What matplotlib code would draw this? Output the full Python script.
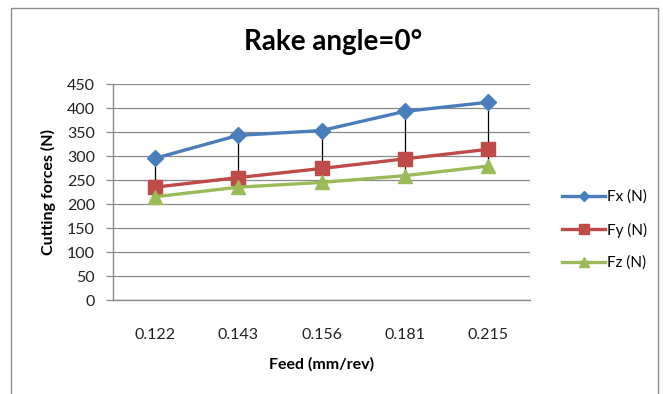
import matplotlib
matplotlib.use("Agg")
import matplotlib.pyplot as plt
from matplotlib.patches import Rectangle
import numpy as np

feeds = ["0.122", "0.143", "0.156", "0.181", "0.215"]
fx = [295, 343, 353, 393, 412]
fy = [235, 255, 274, 294, 314]
fz = [215, 235, 245, 259, 279]
y_ticks = [0, 50, 100, 150, 200, 250, 300, 350, 400, 450]

series = [
    ("Fx (N)", fx, "#4A7EBB", "D", 8),
    ("Fy (N)", fy, "#BE4B48", "s", 9.5),
    ("Fz (N)", fz, "#9BBB59", "^", 10),
]

plt.rcParams["font.family"] = ["Lato", "DejaVu Sans"]

fig = plt.figure(figsize=(6.63, 3.94), dpi=100)
fig.patches.append(Rectangle((11 / 663, -0.01), 647 / 663, 1 - 8 / 394 + 0.01,
                             transform=fig.transFigure, fill=False,
                             edgecolor="#8c8c8c", linewidth=1.0))

ax = fig.add_axes([113 / 663, 1 - 300 / 394, 417 / 663, 216 / 394])
x = np.arange(len(feeds))

# high-low lines between the largest and smallest series at each feed
hi = np.max([fx, fy, fz], axis=0)
lo = np.min([fx, fy, fz], axis=0)
ax.vlines(x, lo, hi, colors="black", linewidth=0.9, zorder=2)

for name, vals, color, marker, ms in series:
    ax.plot(x, vals, color=color, linewidth=2.4, marker=marker, markersize=ms,
            markeredgecolor=color, label=name, zorder=3)

ax.set_xlim(-0.5, len(feeds) - 0.5)
ax.set_ylim(0, 450)
ax.set_yticks(y_ticks)
ax.set_xticks(x)
ax.set_xticklabels(feeds)
ax.grid(axis="y", color="#8a8a8a", linewidth=0.9)
ax.set_axisbelow(True)
for side in ("top", "right"):
    ax.spines[side].set_visible(False)
for side in ("left", "bottom"):
    ax.spines[side].set_color("#8a8a8a")
    ax.spines[side].set_linewidth(1.0)
ax.tick_params(axis="y", length=5, width=0.9, color="#8a8a8a", pad=8,
               labelsize=11.5, labelcolor="#222222")
ax.tick_params(axis="x", length=0, pad=20, labelsize=11.5, labelcolor="#222222")

ax.set_ylabel("Cutting forces (N)", fontsize=11.5, fontweight="bold", labelpad=8)
ax.set_xlabel("Feed (mm/rev)", fontsize=11.5, fontweight="bold", labelpad=11)
fig.text(333 / 663, 1 - 42 / 394, "Rake angle=0°", ha="center", va="center",
         fontsize=20, fontweight="bold")

fig.legend(loc="center left", bbox_to_anchor=(556 / 663, 1 - 230 / 394),
           frameon=False, fontsize=11, handlelength=2.8, labelspacing=1.2,
           handletextpad=0.15, borderaxespad=0, markerscale=0.7)

fig.savefig("out.png", dpi=100)
